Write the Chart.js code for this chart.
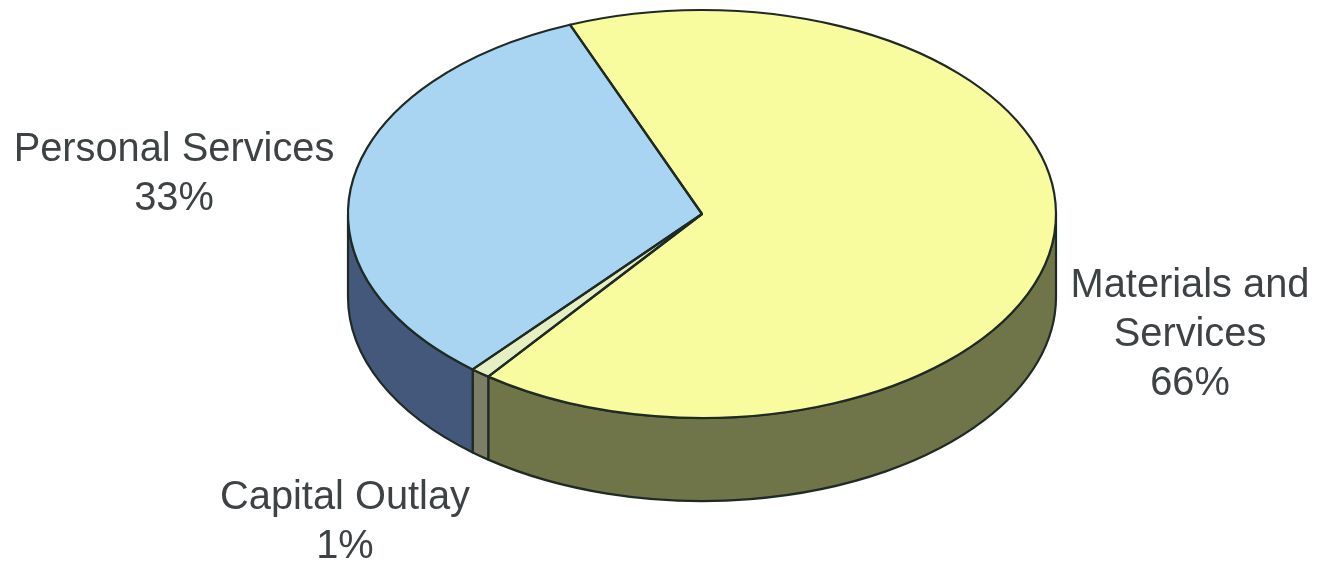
<!DOCTYPE html>
<html>
<head>
<meta charset="utf-8">
<script src="https://cdn.jsdelivr.net/npm/chart.js@4"></script>
<style>
html,body{margin:0;padding:0;background:#fff}
#wrap{width:1319px;height:566px;position:relative}
</style>
</head>
<body>
<div id="wrap"><canvas id="c"></canvas></div>
<script>
const categories = ["Materials and Services", "Capital Outlay", "Personal Services"];
const shares = [66.4, 0.9, 32.7];
const labelLines = [["Materials and", "Services"], ["Capital Outlay"], ["Personal Services"]];
const topColors = ["#F8FC9E", "#E6EFC2", "#A9D5F2"];
const sideColors = ["#6F7548", "#7C7F66", "#43587A"];
const labelCenters = [[1190, 286], [345, 498], [174, 150]];

const RX = 354, RY = 204, DEPTH = 83, CX = 702, CY = 214;
const LINE = "#1f2a24";

function arcs(chart) { return chart.getDatasetMeta(0).data; }

const pie3d = {
  id: "pie3d",
  beforeDatasetsDraw(chart) {
    const ctx = chart.ctx;
    arcs(chart).forEach((el, i) => {
      const a1 = Math.max(el.startAngle, 0), a2 = Math.min(el.endAngle, Math.PI);
      if (a2 <= a1) return;
      ctx.beginPath();
      ctx.ellipse(el.x, el.y, RX, RY, 0, a1, a2);
      ctx.lineTo(el.x + RX * Math.cos(a2), el.y + RY * Math.sin(a2) + DEPTH);
      ctx.ellipse(el.x, el.y + DEPTH, RX, RY, 0, a2, a1, true);
      ctx.closePath();
      ctx.fillStyle = sideColors[i];
      ctx.fill();
      ctx.strokeStyle = LINE;
      ctx.lineWidth = 2.2;
      ctx.lineJoin = "round";
      ctx.stroke();
    });
    const el = arcs(chart)[0], r = el.outerRadius;
    ctx.save();
    ctx.translate(el.x, el.y);
    ctx.scale(RX / r, RY / r);
    ctx.translate(-el.x, -el.y);
  },
  afterDatasetsDraw(chart) {
    const ctx = chart.ctx;
    ctx.restore();
    arcs(chart).forEach((el) => {
      ctx.beginPath();
      ctx.moveTo(el.x, el.y);
      ctx.ellipse(el.x, el.y, RX, RY, 0, el.startAngle, el.endAngle);
      ctx.closePath();
      ctx.strokeStyle = LINE;
      ctx.lineWidth = 2.2;
      ctx.lineJoin = "round";
      ctx.stroke();
    });
    ctx.fillStyle = "#3d4245";
    ctx.font = '39.8px "Liberation Sans", Arial, sans-serif';
    ctx.textAlign = "center";
    ctx.textBaseline = "middle";
    labelLines.forEach((lines, i) => {
      const all = lines.concat([Math.round(shares[i]) + "%"]);
      all.forEach((t, j) => {
        ctx.fillText(t, labelCenters[i][0], labelCenters[i][1] + j * 49);
      });
    });
  }
};

new Chart(document.getElementById("c"), {
  type: "pie",
  data: {
    labels: categories,
    datasets: [{ data: shares, backgroundColor: topColors, borderWidth: 0, clip: false }]
  },
  options: {
    responsive: true,
    maintainAspectRatio: false,
    animation: false,
    rotation: -21.9,
    layout: { padding: { top: CY - 100, bottom: 566 - CY - 100, left: CX - 100, right: 1319 - CX - 100 } },
    plugins: { legend: { display: false }, tooltip: { enabled: false }, title: { display: false } }
  },
  plugins: [pie3d]
});
</script>
</body>
</html>
